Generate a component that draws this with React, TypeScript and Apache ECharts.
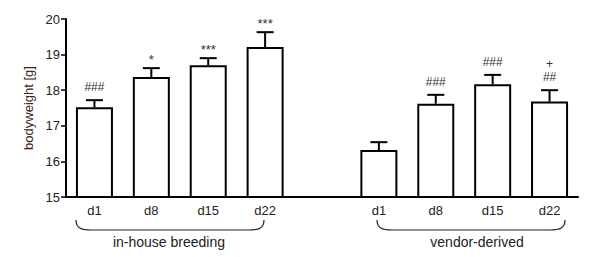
import React, { useEffect, useRef } from "react";
import * as echarts from "echarts";

const categories = ["d1", "d8", "d15", "d22", "", "d1", "d8", "d15", "d22"];
const means = [17.52, 18.37, 18.7, 19.21, null, 16.32, 17.62, 18.17, 17.68];
const sems = [0.2, 0.25, 0.2, 0.42, null, 0.22, 0.25, 0.26, 0.32];
const annotLower = ["###", "*", "***", "***", "", "", "###", "###", "##"];
const annotUpper = ["", "", "", "", "", "", "", "", "+"];
const groupNames = ["in-house breeding", "vendor-derived"];
const yTicks = [15, 16, 17, 18, 19, 20];

const FONT = "Liberation Sans, Arial, sans-serif";

let registered = false;
function registerBrace() {
  if (registered) return;
  registered = true;
  const d = "M0,0 C0,8 5,10 15,10 L173,10 C183,10 188,8 188,0";
  echarts.graphic.registerShape("brace", echarts.graphic.extendPath(d, {}) as any);
}

export default function App() {
  const ref = useRef<HTMLDivElement>(null);
  useEffect(() => {
    if (!ref.current) return;
    registerBrace();
    const chart = echarts.init(ref.current, null, { renderer: "svg" });
    const errData = means.map((m, i) => (m == null ? [i, null, null] : [i, m, (m as number) + (sems[i] as number)]));
    chart.setOption({
      animation: false,
      grid: { left: 66, right: 22, top: 19, bottom: 60 },
      xAxis: {
        type: "category",
        data: categories,
        boundaryGap: true,
        axisLine: { lineStyle: { color: "#000", width: 2 } },
        axisTick: { show: false },
        axisLabel: { color: "#222", fontSize: 13, fontFamily: FONT, margin: 7, interval: 0 },
      },
      yAxis: {
        type: "value",
        min: yTicks[0],
        max: yTicks[yTicks.length - 1],
        interval: 1,
        name: "bodyweight [g]",
        nameLocation: "middle",
        nameGap: 25,
        nameTextStyle: { color: "#3a2222", fontSize: 13, fontFamily: FONT },
        splitLine: { show: false },
        axisLine: { show: true, lineStyle: { color: "#000", width: 2 } },
        axisTick: { show: true, length: 5, lineStyle: { color: "#000", width: 1.5 } },
        axisLabel: { color: "#222", fontSize: 13, fontFamily: FONT, margin: 6 },
      },
      series: [
        {
          type: "bar",
          data: means,
          barWidth: 37,
          itemStyle: { color: "#fff", borderColor: "#000", borderWidth: 2 },
          z: 2,
        },
        {
          type: "custom",
          data: errData,
          z: 3,
          renderItem: (params: any, api: any) => {
            const i = api.value(0);
            const m = api.value(1);
            const t = api.value(2);
            if (m == null || isNaN(m)) return null;
            const p0 = api.coord([i, m]);
            const p1 = api.coord([i, t]);
            const cap = 8.5;
            const children: any[] = [
              { type: "line", shape: { x1: p0[0], y1: p0[1], x2: p1[0], y2: p1[1] }, style: { stroke: "#000", lineWidth: 2 } },
              { type: "line", shape: { x1: p1[0] - cap, y1: p1[1], x2: p1[0] + cap, y2: p1[1] }, style: { stroke: "#000", lineWidth: 2 } },
            ];
            const lo = annotLower[i];
            const up = annotUpper[i];
            if (lo) {
              const star = lo.indexOf("*") >= 0;
              children.push({
                type: "text",
                style: {
                  text: lo,
                  x: p1[0],
                  y: p1[1] - (star ? 9 : 13),
                  align: "center",
                  verticalAlign: "middle",
                  fontSize: star ? 13 : 12,
                  fontFamily: FONT,
                  fill: "#333",
                },
              });
            }
            if (up) {
              children.push({
                type: "text",
                style: {
                  text: up,
                  x: p1[0],
                  y: p1[1] - 26,
                  align: "center",
                  verticalAlign: "middle",
                  fontSize: 12,
                  fontFamily: FONT,
                  fill: "#333",
                },
              });
            }
            return { type: "group", children };
          },
        },
      ],
      graphic: [
        { type: "brace", x: 76, y: 220, style: { fill: "none", stroke: "#222", lineWidth: 1.2 } },
        { type: "brace", x: 377, y: 220, style: { fill: "none", stroke: "#222", lineWidth: 1.2 } },
        {
          type: "text",
          x: 169,
          y: 242,
          style: { text: groupNames[0], align: "center", verticalAlign: "middle", fontSize: 14, fontFamily: FONT, fill: "#222" },
        },
        {
          type: "text",
          x: 477,
          y: 242,
          style: { text: groupNames[1], align: "center", verticalAlign: "middle", fontSize: 14, fontFamily: FONT, fill: "#222" },
        },
      ],
    });
    return () => chart.dispose();
  }, []);
  return <div ref={ref} style={{ width: 600, height: 257, position: "absolute", left: 0, top: 0 }} />;
}
